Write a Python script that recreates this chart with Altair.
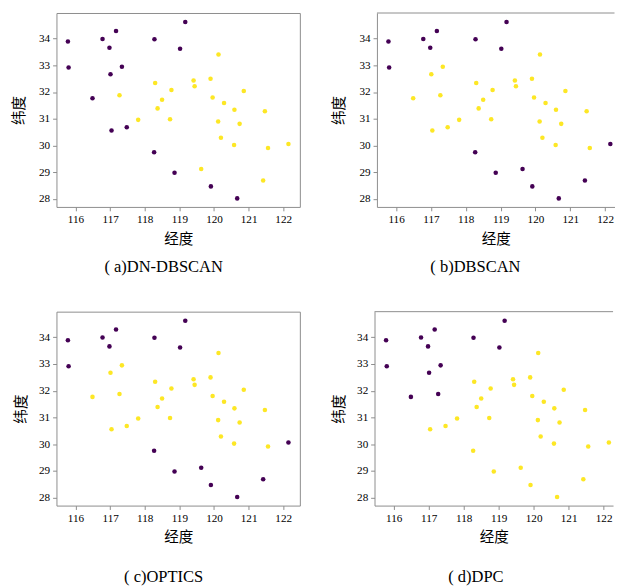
import altair as alt
import pandas as pd

# city longitudes / latitudes
lon = [115.78, 115.80, 116.78, 117.17, 116.98, 117.34, 117.01, 116.49, 117.27, 117.04,
       117.48, 117.81, 118.28, 119.17, 119.02, 118.30, 118.77, 118.50, 118.37, 118.73,
       118.27, 118.86, 119.41, 119.44, 119.90, 120.13, 119.96, 120.29, 120.59, 120.86,
       120.12, 120.74, 120.20, 120.58, 121.47, 121.56, 122.15, 119.63, 119.91, 121.42,
       120.67]
lat = [33.89, 32.92, 33.99, 34.29, 33.66, 32.95, 32.67, 31.77, 31.88, 30.56,
       30.68, 30.96, 33.98, 34.62, 33.62, 32.34, 32.08, 31.71, 31.39, 30.98,
       29.75, 28.98, 32.43, 32.22, 32.50, 33.41, 31.80, 31.59, 31.34, 32.04,
       30.90, 30.81, 30.29, 30.02, 31.28, 29.91, 30.06, 29.12, 28.47, 28.69,
       28.02]

# cluster labels (0 = purple, 1 = yellow), point order as above
dn_dbscan = [0, 0, 0, 0, 0, 0, 0, 0, 1, 0, 0, 1, 0, 0, 0, 1, 1, 1, 1, 1,
             0, 0, 1, 1, 1, 1, 1, 1, 1, 1, 1, 1, 1, 1, 1, 1, 1, 1, 0, 1, 0]
dbscan = [0, 0, 0, 0, 0, 1, 1, 1, 1, 1, 1, 1, 0, 0, 0, 1, 1, 1, 1, 1,
          0, 0, 1, 1, 1, 1, 1, 1, 1, 1, 1, 1, 1, 1, 1, 1, 0, 0, 0, 0, 0]
optics = [0, 0, 0, 0, 0, 1, 1, 1, 1, 1, 1, 1, 0, 0, 0, 1, 1, 1, 1, 1,
          0, 0, 1, 1, 1, 1, 1, 1, 1, 1, 1, 1, 1, 1, 1, 1, 0, 0, 0, 0, 0]
dpc = [0, 0, 0, 0, 0, 0, 0, 0, 0, 1, 1, 1, 0, 0, 0, 1, 1, 1, 1, 1,
       1, 1, 1, 1, 1, 1, 1, 1, 1, 1, 1, 1, 1, 1, 1, 1, 1, 1, 1, 1, 1]

captions = ["( a)DN-DBSCAN", "( b)DBSCAN", "( c)OPTICS", "( d)DPC"]
x_ticks = [116, 117, 118, 119, 120, 121, 122]
y_ticks = [28, 29, 30, 31, 32, 33, 34]

df = pd.DataFrame({"lon": lon, "lat": lat, "a": dn_dbscan, "b": dbscan,
                   "c": optics, "d": dpc})
one = pd.DataFrame({"k": [0]})

PURPLE = "#440154"
YELLOW = "#fde725"
FRAME = "#8a8a8a"
SERIF = "Liberation Serif, DejaVu Serif, serif"
H = 200


def panel(col, caption, width, xdom, ypad, xpad, dx, offset, clipped):
    pts = alt.Chart(df).mark_circle(size=22, opacity=1).encode(
        x=alt.X("lon:Q",
                scale=alt.Scale(domain=xdom, nice=False, zero=False),
                axis=alt.Axis(values=x_ticks, title="经度", domain=clipped,
                              domainColor=FRAME, titlePadding=xpad)),
        y=alt.Y("lat:Q",
                scale=alt.Scale(domain=[27.70, 34.96], nice=False, zero=False),
                axis=alt.Axis(values=y_ticks, title="纬度", domain=clipped,
                              domainColor=FRAME, titlePadding=ypad)),
        color=alt.Color(f"{col}:N",
                        scale=alt.Scale(domain=[0, 1], range=[PURPLE, YELLOW]),
                        legend=None),
    )
    title = alt.TitleParams(caption, orient="bottom", anchor="middle",
                            frame="group", dx=dx, offset=offset,
                            font=SERIF, fontSize=17, fontWeight="normal",
                            color="black")
    if clipped:
        top = alt.Chart(one).mark_rule(color=FRAME, strokeWidth=1).encode(
            x=alt.value(0), x2=alt.value(width), y=alt.value(0))
        return alt.layer(pts, top).properties(
            width=width, height=H, title=title,
            view=alt.ViewBackground(stroke=None))
    return pts.properties(width=width, height=H, title=title)


a = panel("a", captions[0], 251, [115.45, 122.48], 13, 7, -15, 14, False)
b = panel("b", captions[1], 245, [115.45, 122.27], 13, 7, -21, 14, True)
c = panel("c", captions[2], 251, [115.45, 122.48], 10, 7, -15, 25, False)
d = panel("d", captions[3], 246, [115.45, 122.27], 10, 7, -18.5, 25, True)

chart = alt.vconcat(
    alt.hconcat(a, b, spacing=31.5),
    alt.hconcat(c, d, spacing=32),
    spacing=36,
).properties(
    padding={"left": 3, "top": -5, "right": 0, "bottom": 0},
    background="white",
).configure_view(
    stroke=FRAME, strokeWidth=1
).configure_axis(
    grid=False,
    tickSize=4,
    tickColor=FRAME,
    labelPadding=3,
    labelFont=SERIF,
    labelFontSize=11.5,
    labelColor="black",
    titleFont="Noto Sans CJK SC",
    titleFontSize=15,
    titleFontWeight="normal",
    titleColor="black",
)

chart.save("out.html", embed_options={"renderer": "svg", "actions": False})
